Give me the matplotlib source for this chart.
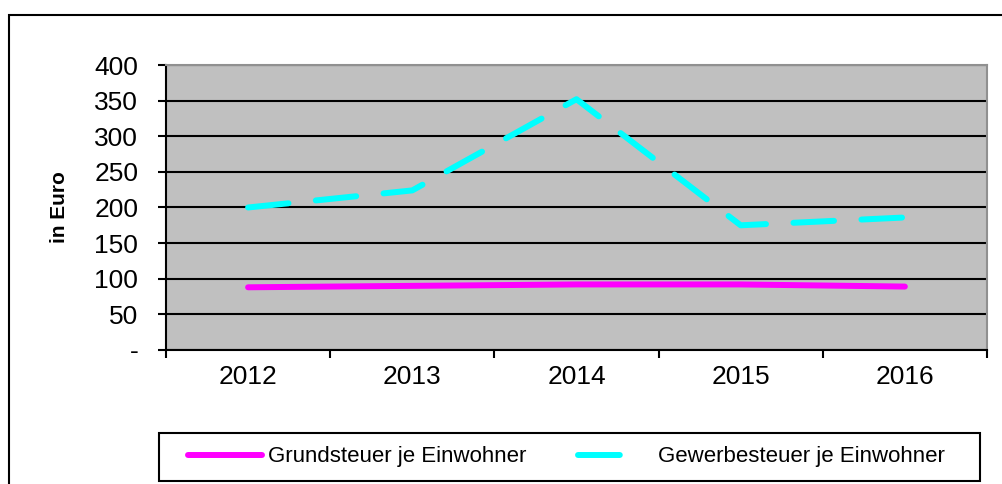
import matplotlib.pyplot as plt
from matplotlib.patches import Rectangle

plt.rcParams['font.family'] = ['Liberation Sans', 'DejaVu Sans']

years = ["2012", "2013", "2014", "2015", "2016"]
grundsteuer = [88, 90, 92, 92, 89]
gewerbesteuer = [200, 224, 352, 175, 186]

fig = plt.figure(figsize=(10.03, 4.84), dpi=100)
ax = fig.add_axes([0.1655, 0.2769, 0.8185, 0.5888])

# outer frame of the chart
fig.patches.append(Rectangle((9 / 1003, -0.05), 1.05, (484 - 15) / 484 + 0.05,
                             transform=fig.transFigure, fill=False,
                             edgecolor="black", linewidth=1.5, zorder=0))
# legend frame
fig.patches.append(Rectangle((159 / 1003, 3 / 484), 821 / 1003, 48 / 484,
                             transform=fig.transFigure, fill=False,
                             edgecolor="black", linewidth=1.5, zorder=0))

x = range(len(years))
ax.set_facecolor("#C0C0C0")
ax.plot(x, grundsteuer, color="#FF00FF", lw=4.3, solid_capstyle="round",
        label="Grundsteuer je Einwohner", zorder=3)
ax.plot(x, gewerbesteuer, color="#00FFFF", lw=4.3, dash_capstyle="round",
        dashes=(6.8, 4.6), label="Gewerbesteuer je Einwohner", zorder=3)

ax.set_xlim(-0.5, 4.5)
ax.set_ylim(0, 400)
ax.set_yticks(range(0, 401, 50))
ax.set_yticklabels(["-"] + [str(v) for v in range(50, 401, 50)], fontsize=19)
ax.yaxis.grid(True, color="black", lw=1.5)
ax.set_axisbelow(True)

ax.set_xticks([i + 0.5 for i in range(-1, 5)], minor=False)
ax.set_xticklabels([])
ax.set_xticks(list(x), minor=True)
ax.set_xticklabels(years, minor=True, fontsize=19)
ax.tick_params(axis="x", which="minor", length=0, pad=11)
ax.tick_params(axis="x", which="major", length=6, width=1.5, direction="out")
ax.tick_params(axis="y", length=6, width=1.5, direction="out", pad=14)

for s in ["top", "right"]:
    ax.spines[s].set_color("#909090")
    ax.spines[s].set_linewidth(1.5)
for s in ["left", "bottom"]:
    ax.spines[s].set_linewidth(1.5)

ax.set_ylabel("in Euro", fontsize=15, fontweight="bold")
ax.yaxis.set_label_coords(-0.118, 0.5)

leg = fig.legend(loc="center", ncol=2, bbox_to_anchor=(0.5648, 0.0558),
                 fontsize=16, frameon=False, handlelength=3.33,
                 handletextpad=0.27, columnspacing=2.3)
# one dash only in the legend sample
leg.get_lines()[1].set_dashes((7, 12))

fig.savefig("out.png", dpi=100)
